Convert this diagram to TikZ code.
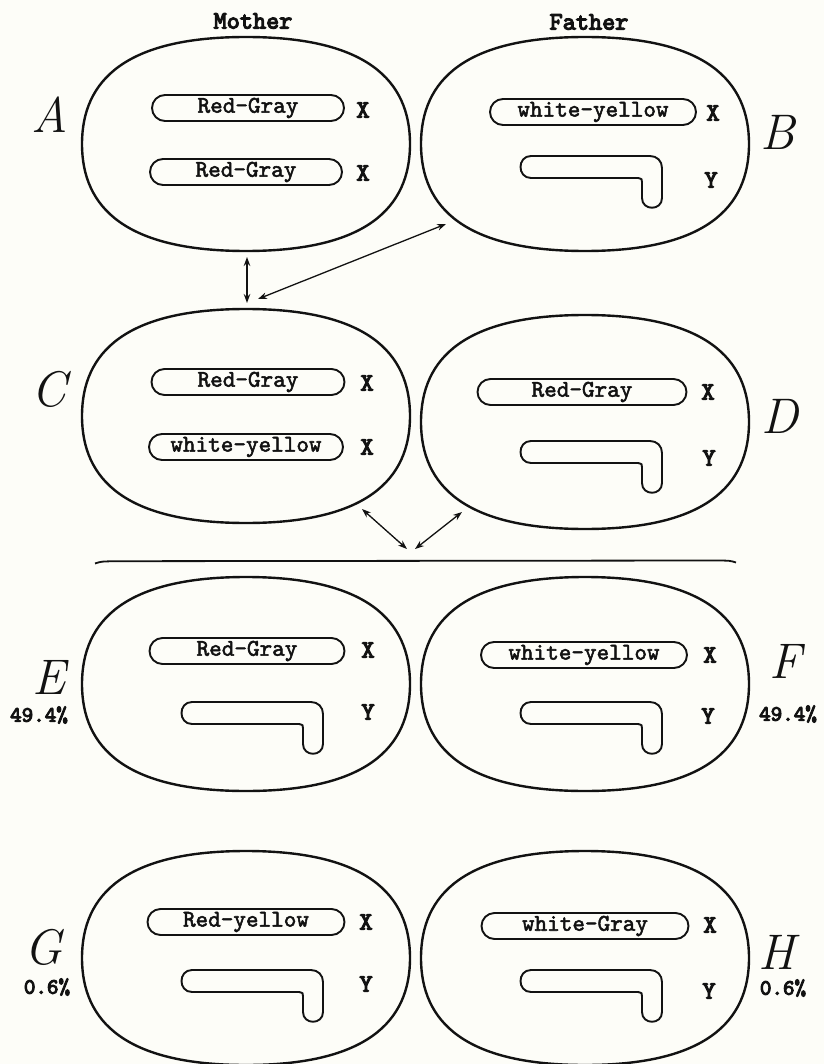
\documentclass[tikz,border=0pt]{standalone}
\usepackage{fontspec}
\usetikzlibrary{arrows.meta}
\newfontfamily\twfont{lmmono10-regular.otf}[FakeBold=2.2]
\newfontfamily\twbold{lmmono10-regular.otf}[FakeBold=4.5]
\definecolor{paper}{RGB}{253,253,248}
\definecolor{ink}{RGB}{18,18,18}
\tikzset{
  cellline/.style={draw=ink, line width=2.4pt},
  pill/.style={draw=ink, line width=1.9pt, rounded corners=13pt, minimum height=26pt, inner sep=0pt, font=\twfont\fontsize{24}{24}\selectfont, text=ink},
  hookline/.style={draw=ink, line width=1.9pt},
  chromlbl/.style={font=\twbold\fontsize{25}{25}\selectfont, text=ink, inner sep=0pt},
  celllbl/.style={font=\fontsize{50}{50}\selectfont\itshape, text=ink, inner sep=0pt},
  pctlbl/.style={font=\twbold\fontsize{22}{22}\selectfont, text=ink, inner sep=0pt},
  headlbl/.style={font=\twbold\fontsize{25}{25}\selectfont, text=ink, inner sep=0pt},
  link/.style={draw=ink, line width=1.3pt, {Stealth[length=9pt,width=6.5pt]}-{Stealth[length=9pt,width=6.5pt]}}
}
\newcommand{\cellshape}[2]{%
  \draw[cellline] ({#1+164},{#2})
    .. controls ({#1+164},{#2-64}) and ({#1+120},{#2-107}) .. ({#1},{#2-107})
    .. controls ({#1-120},{#2-107}) and ({#1-164},{#2-64}) .. ({#1-164},{#2})
    .. controls ({#1-164},{#2+64}) and ({#1-120},{#2+107}) .. ({#1},{#2+107})
    .. controls ({#1+120},{#2+107}) and ({#1+164},{#2+64}) .. ({#1+164},{#2}) -- cycle;}
% hook-shaped Y chromosome: left x, top y
\newcommand{\hookshape}[2]{%
  \draw[hookline] ({#1+11},{#2}) -- ({#1+130},{#2})
    .. controls ({#1+137},{#2}) and ({#1+142},{#2+5}) .. ({#1+142},{#2+12})
    -- ({#1+142},{#2+42})
    .. controls ({#1+142},{#2+55}) and ({#1+122},{#2+55}) .. ({#1+122},{#2+42})
    -- ({#1+122},{#2+26})
    .. controls ({#1+122},{#2+23}) .. ({#1+118},{#2+22})
    -- ({#1+11},{#2+22})
    .. controls ({#1-3},{#2+22}) and ({#1-3},{#2}) .. ({#1+11},{#2}) -- cycle;}
\begin{document}
\begin{tikzpicture}[x=1pt,y=-1pt]
\fill[paper] (0,0) rectangle (824,1064);
\useasboundingbox (0,0) rectangle (824,1064);

% headings
\node[headlbl] (mother) at (253,21) {Mother};
\node[headlbl] (father) at (589,22) {Father};

% cells
\cellshape{246}{144}
\cellshape{585}{144}
\cellshape{246}{416}
\cellshape{585}{422}
\cellshape{246}{684}
\cellshape{585}{684}
\cellshape{246}{958}
\cellshape{585}{958}

% cell letters
\node[celllbl] (labA) at (50,115) {A};
\node[celllbl] (labB) at (778,132) {B};
\node[celllbl] (labC) at (49,389) {C};
\node[celllbl] (labD) at (780,416) {D};
\node[celllbl] (labE) at (49,677) {E};
\node[pctlbl] (pctE) at (39,715) {49.4\%};
\node[celllbl] (labF) at (785,661) {F};
\node[pctlbl] (pctF) at (788,714) {49.4\%};
\node[celllbl] (labG) at (43,947) {G};
\node[pctlbl] (pctG) at (47,987) {0.6\%};
\node[celllbl] (labH) at (777,952) {H};
\node[pctlbl] (pctH) at (783,988) {0.6\%};

% A
\node[pill, minimum width=192pt] (A1) at (248,108) {Red-Gray};
\node[chromlbl] (A1x) at (363,110) {X};
\node[pill, minimum width=192pt] (A2) at (246,172) {Red-Gray};
\node[chromlbl] (A2x) at (363,173) {X};
% B
\node[pill, minimum width=206pt] (B1) at (593,112) {white-yellow};
\node[chromlbl] (B1x) at (713,113) {X};
\hookshape{520}{156}
\node[chromlbl] (B2y) at (711,180) {Y};
% C
\node[pill, minimum width=193pt] (C1) at (248,382) {Red-Gray};
\node[chromlbl] (C1x) at (367,383) {X};
\node[pill, minimum width=194pt] (C2) at (246,447) {white-yellow};
\node[chromlbl] (C2x) at (367,447) {X};
% D
\node[pill, minimum width=209pt] (D1) at (582,392) {Red-Gray};
\node[chromlbl] (D1x) at (708,392) {X};
\hookshape{520}{441}
\node[chromlbl] (D2y) at (709,458) {Y};
% E
\node[pill, minimum width=195pt] (E1) at (247,651) {Red-Gray};
\node[chromlbl] (E1x) at (368,650) {X};
\hookshape{181}{702}
\node[chromlbl] (E2y) at (368,712) {Y};
% F
\node[pill, minimum width=206pt] (F1) at (584,655) {white-yellow};
\node[chromlbl] (F1x) at (710,655) {X};
\hookshape{520}{702}
\node[chromlbl] (F2y) at (708,716) {Y};
% G
\node[pill, minimum width=197pt] (G1) at (246,922) {Red-yellow};
\node[chromlbl] (G1x) at (366,922) {X};
\hookshape{181}{970}
\node[chromlbl] (G2y) at (366,984) {Y};
% H
\node[pill, minimum width=207pt] (H1) at (585,926) {white-Gray};
\node[chromlbl] (H1x) at (710,925) {X};
\hookshape{520}{970}
\node[chromlbl] (H2y) at (709,991) {Y};

% connector end points
\coordinate (Abot) at (247,257);
\coordinate (Ctop) at (247,303);
\coordinate (Ctop2) at (258,299);
\coordinate (Bbl) at (446,224);
\coordinate (Cbr) at (362,509);
\coordinate (meetL) at (407,549);
\coordinate (meetR) at (415,549);
\coordinate (Dbl) at (462,512);

\draw[link] (Abot) -- (Ctop);
\draw[link] (Ctop2) -- (Bbl);
\draw[link] (Cbr) -- (meetL);
\draw[link] (meetR) -- (Dbl);

% dividing line
\coordinate (lineL) at (95,563.5);
\coordinate (lineR) at (736,562.5);
\draw[draw=ink, line width=1.8pt] (lineL) .. controls (101,561.5) .. (115,561.2) -- (716,560.5) .. controls (730,560.6) .. (lineR);
\end{tikzpicture}
\end{document}
